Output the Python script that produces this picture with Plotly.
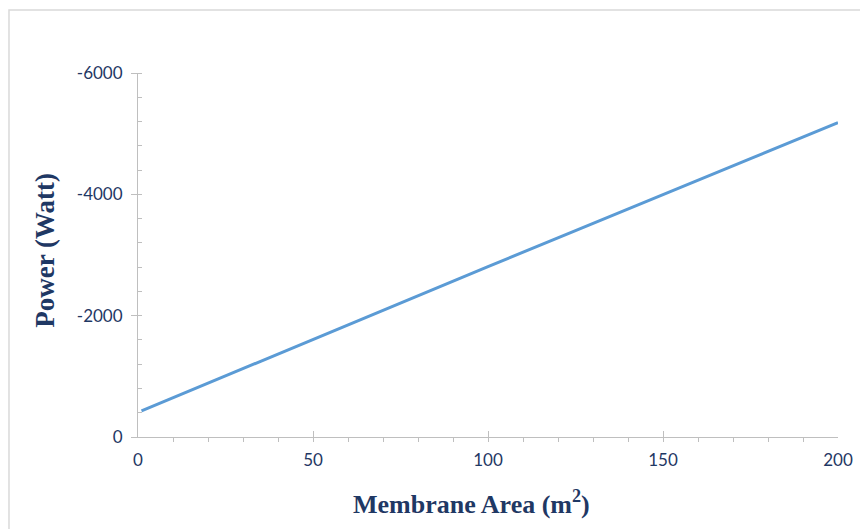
import plotly.graph_objects as go

membrane_area = [1, 25, 50, 75, 100, 125, 150, 175, 200]
power_watt = [-430, -1010, -1610, -2210, -2810, -3400, -4000, -4590, -5180]

x_ticks = [0, 50, 100, 150, 200]
y_ticks = [0, -2000, -4000, -6000]

x_title = "Membrane Area (m<sup>2</sup>)"
y_title = "Power (Watt)"

navy = "#1F3864"
grey = "#BFBFBF"
title_font = dict(family="Liberation Serif", size=26, color=navy, weight="bold")

fig = go.Figure(go.Scatter(
    x=membrane_area, y=power_watt, mode="lines",
    line=dict(color="#5B9BD5", width=3), showlegend=False))

fig.update_layout(
    width=860, height=521,
    margin=dict(l=130, r=30, t=65, b=92),
    paper_bgcolor="white", plot_bgcolor="white",
    shapes=[dict(type="rect", xref="paper", yref="paper",
                 x0=-0.1843, x1=1.2, y0=-0.4, y1=1.173,
                 line=dict(color="#D9D9D9", width=1.5), layer="below")],
    annotations=[
        dict(text=x_title, xref="paper", yref="paper", x=0.477, y=-0.181,
             xanchor="center", yanchor="middle", showarrow=False, font=title_font),
        dict(text=y_title, xref="paper", yref="paper", x=-0.133, y=0.514,
             xanchor="center", yanchor="middle", showarrow=False, textangle=-90,
             font=dict(family="Liberation Serif", size=27, color=navy, weight="bold")),
    ],
)

fig.update_xaxes(
    range=[0, 200], tickvals=x_ticks, ticktext=[str(v) for v in x_ticks],
    showgrid=False, zeroline=False, showline=True, linecolor=grey, linewidth=1,
    ticks="inside", ticklen=6, tickcolor=grey, ticklabelstandoff=8,
    minor=dict(dtick=10, ticks="outside", ticklen=4, tickcolor=grey, showgrid=False),
    tickfont=dict(family="Lato", size=17, color=navy),
)

fig.update_yaxes(
    range=[0, -6000], tickvals=y_ticks, ticktext=[str(v) for v in y_ticks],
    showgrid=False, zeroline=False, showline=True, linecolor=grey, linewidth=1,
    ticks="outside", ticklen=6, tickcolor=grey, ticklabelstandoff=5,
    minor=dict(dtick=400, tick0=0, ticks="inside", ticklen=4, tickcolor=grey, showgrid=False),
    tickfont=dict(family="Lato", size=17, color=navy),
)

fig.write_html("out.html")
